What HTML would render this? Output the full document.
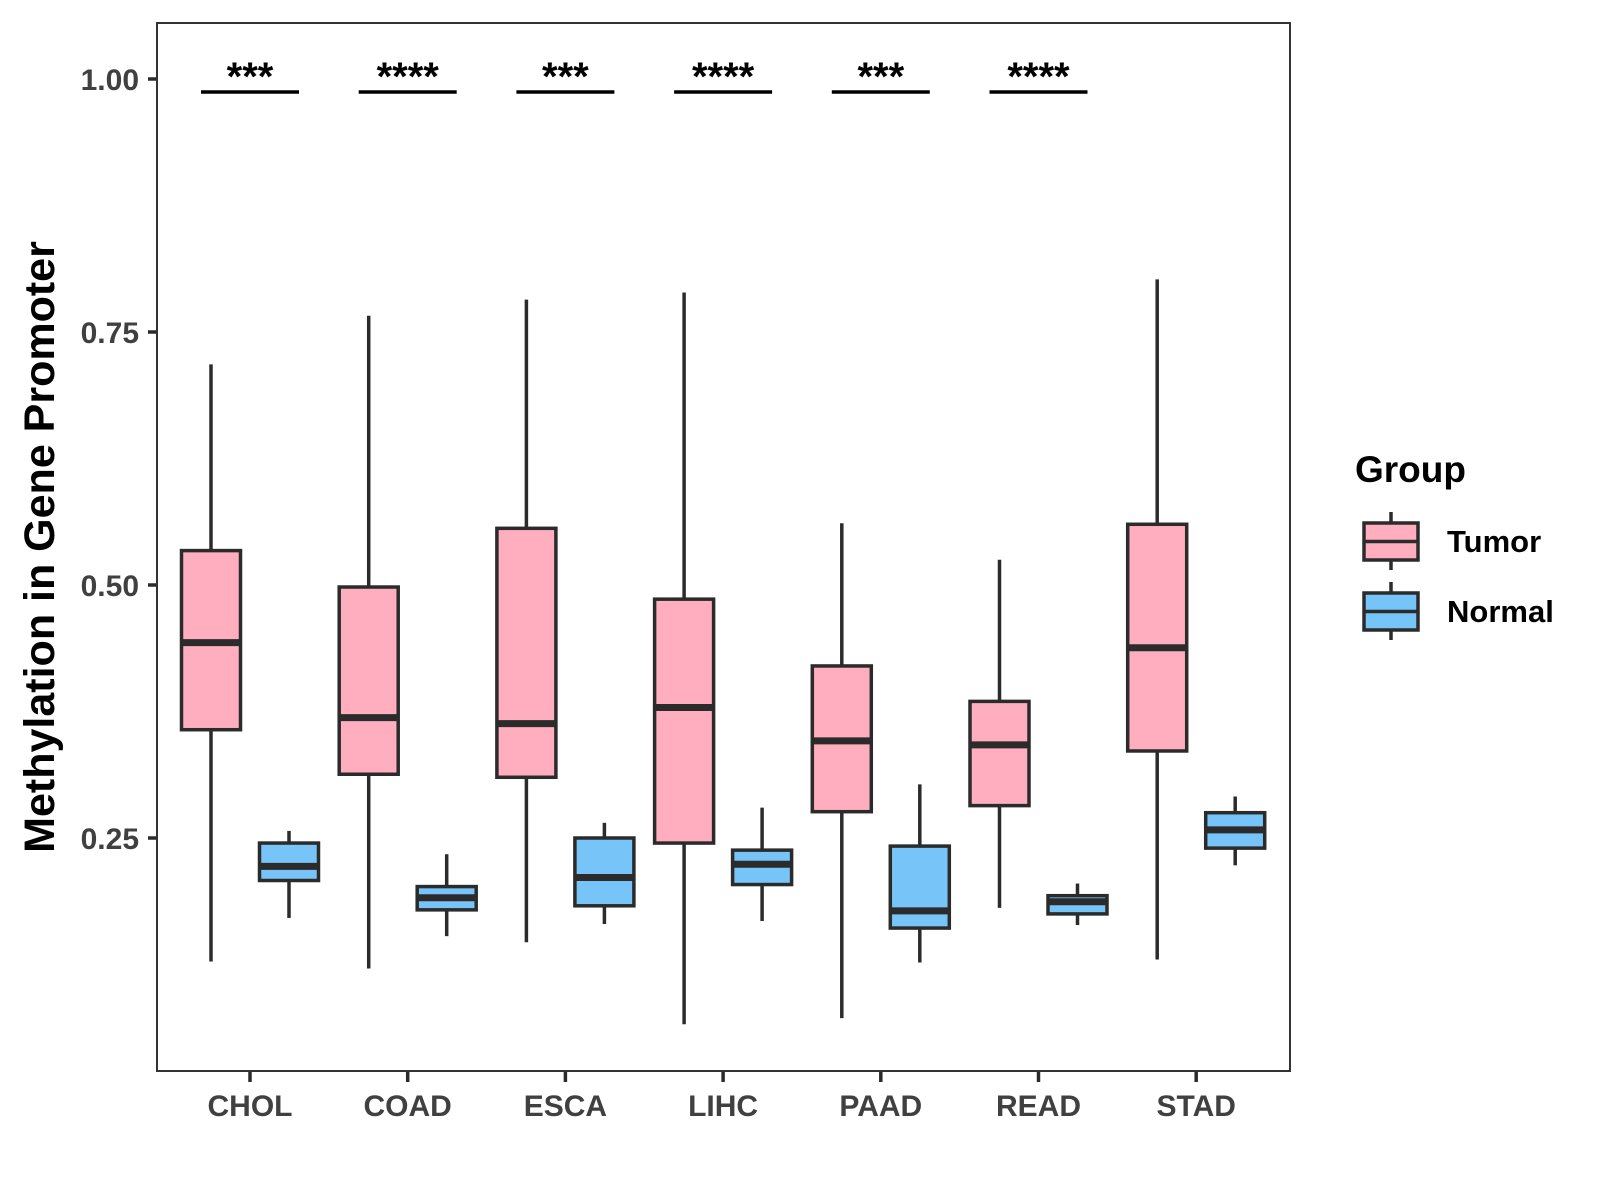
<!DOCTYPE html>
<html><head><meta charset="utf-8"><style>
html,body{margin:0;padding:0;background:#fff;}
svg{display:block;font-family:"Liberation Sans",Arial,sans-serif;font-weight:bold;}
</style></head><body>
<svg id="chart" width="1600" height="1200" viewBox="0 0 1600 1200" xmlns="http://www.w3.org/2000/svg">
<rect x="0" y="0" width="1600" height="1200" fill="#fff"/>
<g id="plot"></g>
<text x="0" y="0" transform="translate(54,547) rotate(-90)" text-anchor="middle" font-size="43" fill="#000">Methylation in Gene Promoter</text>
<g>
<text x="1355" y="482" font-size="37" fill="#000">Group</text>
<g>
<line x1="1391" y1="512" x2="1391" y2="570" stroke="#2b2b2b" stroke-width="3.5"/>
<rect x="1364" y="523" width="54" height="37" fill="#FFAEC0" stroke="#2b2b2b" stroke-width="3.5"/>
<line x1="1364" y1="541.5" x2="1418" y2="541.5" stroke="#2b2b2b" stroke-width="3.5"/>
<text x="1447" y="552" font-size="31" fill="#000">Tumor</text>
</g>
<g>
<line x1="1391" y1="582" x2="1391" y2="640" stroke="#2b2b2b" stroke-width="3.5"/>
<rect x="1364" y="593" width="54" height="37" fill="#76C4F8" stroke="#2b2b2b" stroke-width="3.5"/>
<line x1="1364" y1="611.5" x2="1418" y2="611.5" stroke="#2b2b2b" stroke-width="3.5"/>
<text x="1447" y="622" font-size="31" fill="#000">Normal</text>
</g>
</g>
</svg>
<script>
const categories = ["CHOL","COAD","ESCA","LIHC","PAAD","READ","STAD"];
const tumorLow = [0.128,0.121,0.147,0.066,0.072,0.181,0.130];
const tumorQ1 = [0.357,0.313,0.310,0.245,0.276,0.282,0.336];
const tumorMed = [0.443,0.369,0.363,0.379,0.346,0.342,0.438];
const tumorQ3 = [0.534,0.498,0.556,0.486,0.420,0.385,0.560];
const tumorHigh = [0.718,0.766,0.782,0.789,0.561,0.525,0.802];
const normalLow = [0.171,0.153,0.165,0.168,0.127,0.164,0.223];
const normalQ1 = [0.208,0.179,0.183,0.204,0.161,0.175,0.240];
const normalMed = [0.222,0.191,0.211,0.224,0.178,0.187,0.258];
const normalQ3 = [0.245,0.202,0.250,0.238,0.242,0.193,0.275];
const normalHigh = [0.257,0.234,0.265,0.280,0.303,0.205,0.291];
const yTicks = [0.25,0.50,0.75,1.00];
const yTickLabels = ["0.25","0.50","0.75","1.00"];
const sigLabels = ["***","****","***","****","***","****",""];

const NS="http://www.w3.org/2000/svg";
const PL=157,PT=23,PR=1290,PB=1071;
function y(v){return 79+(1-v)*1012;}
function x(i){return 250+i*157.7;}
const plot=document.getElementById('plot');
function mk(tag,attrs,parent){const e=document.createElementNS(NS,tag);for(const k in attrs)e.setAttribute(k,attrs[k]);(parent||plot).appendChild(e);return e;}
const stroke="#2b2b2b";
yTicks.forEach((v,i)=>{
  const t=mk('line',{x1:PL-9,x2:PL,y1:y(v),y2:y(v),stroke:stroke,'stroke-width':3.5});
  
  
  const l=mk('text',{x:PL-18,y:y(v)+11,'text-anchor':'end','font-size':30,fill:'#404040'});
  l.textContent=yTickLabels[i];
  
  
});
categories.forEach((c,i)=>{
  const t=mk('line',{x1:x(i),x2:x(i),y1:PB,y2:PB+11,stroke:stroke,'stroke-width':3.5});
  
  
  const l=mk('text',{x:x(i),y:1116,'text-anchor':'middle','font-size':30,fill:'#404040'});
  l.textContent=c;
  
  
});
function box(cx,lo,q1,md,q3,hi,fill,name){
  const g=mk('g',{});
  
  
  const w=59;
  mk('line',{x1:cx,x2:cx,y1:y(hi),y2:y(q3),stroke:stroke,'stroke-width':3.5},g);
  mk('line',{x1:cx,x2:cx,y1:y(q1),y2:y(lo),stroke:stroke,'stroke-width':3.5},g);
  mk('rect',{x:cx-w/2,y:y(q3),width:w,height:y(q1)-y(q3),fill:fill,stroke:stroke,'stroke-width':3.5},g);
  mk('line',{x1:cx-w/2,x2:cx+w/2,y1:y(md),y2:y(md),stroke:stroke,'stroke-width':7},g);
}
categories.forEach((c,i)=>{
  box(x(i)-39,tumorLow[i],tumorQ1[i],tumorMed[i],tumorQ3[i],tumorHigh[i],'#FFAEC0','box-tumor-'+c.toLowerCase());
  box(x(i)+39,normalLow[i],normalQ1[i],normalMed[i],normalQ3[i],normalHigh[i],'#76C4F8','box-normal-'+c.toLowerCase());
  if(sigLabels[i]){
    const b=mk('line',{x1:x(i)-49,x2:x(i)+49,y1:92,y2:92,stroke:'#000','stroke-width':3.5});
    
    
    const s=mk('text',{x:x(i),y:90,'text-anchor':'middle','font-size':40,fill:'#000'});
    s.textContent=sigLabels[i];
    
    
  }
});
const fr=mk('rect',{x:PL,y:PT,width:PR-PL,height:PB-PT,fill:'none',stroke:'#333','stroke-width':2});


</script>
</body></html>
